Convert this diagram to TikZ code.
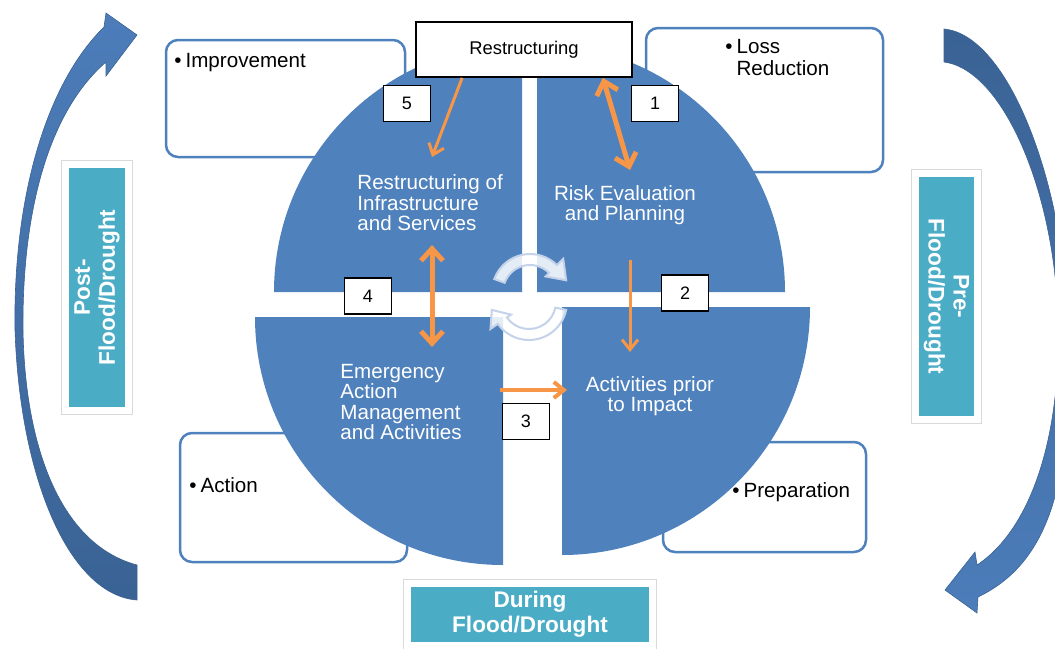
\documentclass[tikz,border=0pt]{standalone}
\usepackage{fontspec}
\setmainfont{Liberation Sans}
\usetikzlibrary{arrows.meta, calc}
\definecolor{quad}{RGB}{79, 129, 189}
\definecolor{dark}{RGB}{58, 98, 148}
\definecolor{light}{RGB}{76, 125, 186}
\definecolor{phase}{RGB}{75, 172, 198}
\definecolor{flow}{RGB}{247, 150, 70}
\definecolor{ring}{RGB}{196, 211, 233}
\newcommand{\bul}{\textbullet\hspace{2pt}}
\newcommand{\qfont}{\fontsize{10.3}{10.25}\selectfont}

\begin{document}
\begin{tikzpicture}[x=0.5pt, y=-0.5pt,
  note/.style={draw=quad, line width=1.25pt, rounded corners=6pt, fill=white, inner sep=0pt},
  notetext/.style={inner sep=0pt, font=\fontsize{10.3}{11}\selectfont, align=left},
  qtext/.style={inner sep=0pt, text=white, font=\qfont},
  numbox/.style={draw, fill=white, line width=0.9pt, minimum width=23.5pt, minimum height=18pt, inner sep=0pt, font=\fontsize{9}{10}\selectfont},
  phasebox/.style={fill=phase, draw=white, line width=3.5pt, preaction={draw=black!15, line width=4.6pt},
    text=white, align=center, inner sep=0pt, font=\bfseries\fontsize{11.3}{12.5}\selectfont},
  turn/.style={fill=white, fill opacity=0.85, draw=ring, line width=1pt},
  thinflow/.style={draw=flow, line width=1.5pt, -{Straight Barb[length=5pt, width=8pt]}},
  thickflow/.style={draw=flow, line width=2.5pt, {Straight Barb[length=6pt, width=11pt]}-{Straight Barb[length=6pt, width=11pt]}}]

  \useasboundingbox (0,0) rectangle (1055,648);

  % big curved arrows round the cycle
  \shade[top color=light, bottom color=dark, draw=dark, line width=0.3pt]
    (137,565) .. controls (62,545) and (25,450) .. (23,330)
    .. controls (22,220) and (45,115) .. (106,62)
    -- (106,76) -- (137,35) -- (106,13) -- (104,27)
    .. controls (45,85) and (13,200) .. (15,330)
    .. controls (20,480) and (70,595) .. (137,600) -- cycle;
  \shade[top color=dark, bottom color=light, draw=dark, line width=0.3pt]
    (944,29) .. controls (1010,35) and (1066,190) .. (1068,330)
    .. controls (1072,470) and (1055,560) .. (978,597)
    -- (977,613) -- (945,590) -- (975,552) -- (977,565)
    .. controls (1030,530) and (1060,440) .. (1058,330)
    .. controls (1058,200) and (1005,70) .. (944,62) -- cycle;

  % note boxes behind the quarters
  \node[note, minimum width=119.5pt, minimum height=58.5pt] (impr) at (285.5,98.5) {};
  \node[note, minimum width=118.5pt, minimum height=72pt] (loss) at (764.5,100) {};
  \node[note, minimum width=113.5pt, minimum height=64.5pt] (act) at (293.5,497.5) {};
  \node[note, minimum width=101.5pt, minimum height=55pt] (prep) at (764.5,497) {};

  % the four quarters
  \fill[quad] (522,292) -- ++(-248,0) arc[start angle=180, end angle=270, radius=248] -- cycle;
  \fill[quad] (537,292) -- ++(0,-248) arc[start angle=270, end angle=360, radius=248] -- cycle;
  \fill[quad] (562,307) -- ++(248,0) arc[start angle=0, end angle=90, radius=248] -- cycle;
  \fill[quad] (503,317) -- ++(0,248) arc[start angle=90, end angle=180, radius=248] -- cycle;

  % turning arrows in the middle
  \coordinate (ctop) at (530,292);
  \coordinate (cbot) at (529,302);
  \path[turn] ($(ctop)+(-160:38)$) arc[start angle=-160, end angle=-45, radius=38]
    -- ($(ctop)+(-45:47)$) -- ($(ctop)+(-18:38)$) -- ($(ctop)+(-45:22)$)
    -- ($(ctop)+(-45:27)$) arc[start angle=-45, end angle=-160, radius=27] -- cycle;
  \path[turn] ($(cbot)+(12:38)$) arc[start angle=12, end angle=145, radius=38]
    -- ($(cbot)+(145:47)$) -- ($(cbot)+(168:38)$) -- ($(cbot)+(145:22)$)
    -- ($(cbot)+(145:27)$) arc[start angle=145, end angle=12, radius=27] -- cycle;

  \node[qtext, anchor=west, align=left] (infra) at (357,203) {Restructuring of\\Infrastructure\\and Services};
  \node[qtext, align=center] (risk) at (625,205) {Risk Evaluation\\and Planning};
  \node[qtext, anchor=west, align=left] (emerg) at (340,402) {Emergency\\Action\\Management\\and Activities};
  \node[qtext, align=center] (prior) at (650,396) {Activities prior\\to Impact};

  \node[draw, fill=white, line width=0.85pt, minimum width=108pt, minimum height=27.5pt, inner sep=0pt,
    font=\fontsize{9.2}{10}\selectfont] (restr) at (524,49.5) {Restructuring};

  \node[numbox] (n1) at (655,103.5) {1};
  \node[numbox] (n2) at (685,293) {2};
  \node[numbox] (n3) at (526,421.5) {3};
  \node[numbox] (n4) at (368,296) {4};
  \node[numbox] (n5) at (407,103.5) {5};

  % orange links
  \coordinate (toinfra) at (432,157);
  \coordinate (torisk) at (630,170);
  \coordinate (infralow) at (432,245);
  \coordinate (emergtop) at (432,347);
  \coordinate (risklow) at (630,260);
  \coordinate (priortop) at (630,352);
  \coordinate (emergright) at (500,390);
  \coordinate (priorleft) at (567,390);
  \draw[thinflow] ($(restr.south west)+(47,0)$) -- (toinfra);
  \draw[thickflow] ($(restr.south east)+(-30,0)$) -- (torisk);
  \draw[thickflow] (infralow) -- (emergtop);
  \draw[thinflow] (risklow) -- (priortop);
  \draw[thinflow, line width=2pt] (emergright) -- (priorleft);

  % phase labels
  \node[phasebox, rotate=90, minimum width=123pt, minimum height=31.5pt] (post) at (97,287.5) {Post-\\Flood/Drought};
  \node[phasebox, rotate=-90, minimum width=123pt, minimum height=31pt] (pre) at (946.5,296.5) {Pre-\\Flood/Drought};
  \node[phasebox, minimum width=122.5pt, minimum height=31pt] (during) at (530,614.5) {During\\Flood/Drought};

  \node[notetext, anchor=west] (imprtext) at (174,63) {\bul Improvement};
  \node[notetext, anchor=west] (losstext) at (725,58) {\bul Loss\\\phantom{\bul}Reduction};
  \node[notetext, anchor=west] (acttext) at (189,485) {\bul Action};
  \node[notetext, anchor=west] (preptext) at (732,492) {\bul Preparation};

\end{tikzpicture}
\end{document}
